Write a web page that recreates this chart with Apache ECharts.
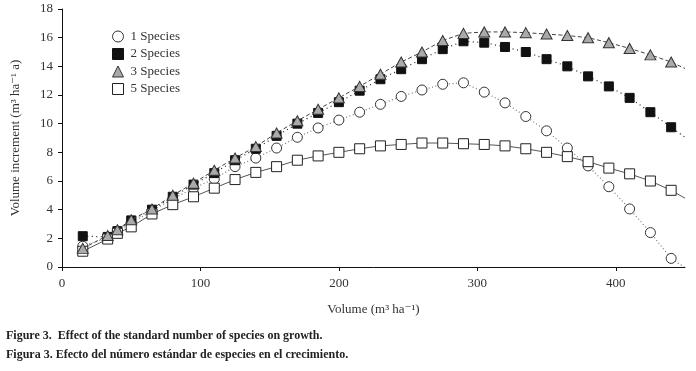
<!DOCTYPE html>
<html>
<head>
<meta charset="utf-8">
<script src="https://cdn.jsdelivr.net/npm/echarts@6/dist/echarts.min.js"></script>
<style>
  html, body { margin: 0; padding: 0; background: #fff; }
  #app { width: 696px; height: 371px; }
</style>
</head>
<body>
<div id="app"></div>
<script>
// volume (m3/ha) of each measured point
const volume = [15, 33, 40, 50, 65, 80, 95, 110, 125, 140, 155, 170, 185, 200, 215,
  230, 245, 260, 275, 290, 305, 320, 335, 350, 365, 380, 395, 410, 425, 440];

const species1 = [1.45, 2.05, 2.5, 3.1, 3.9, 4.75, 5.5, 6.15, 7.0, 7.6, 8.3, 9.05, 9.7, 10.25, 10.8,
  11.35, 11.9, 12.35, 12.75, 12.85, 12.2, 11.45, 10.5, 9.5, 8.3, 7.05, 5.6, 4.05, 2.4, 0.6];
const species2 = [2.15, 2.1, 2.5, 3.25, 4.0, 4.9, 5.75, 6.55, 7.45, 8.25, 9.15, 10.0, 10.75, 11.5, 12.3,
  13.1, 13.8, 14.5, 15.2, 15.75, 15.65, 15.35, 15.0, 14.5, 14.0, 13.3, 12.6, 11.8, 10.8, 9.75];
const species3 = [1.3, 2.2, 2.6, 3.3, 4.05, 5.0, 5.85, 6.75, 7.6, 8.4, 9.35, 10.2, 11.0, 11.8, 12.6,
  13.45, 14.3, 15.0, 15.8, 16.3, 16.4, 16.4, 16.35, 16.25, 16.15, 16.0, 15.65, 15.25, 14.8, 14.3];
const species5 = [1.1, 1.95, 2.35, 2.8, 3.7, 4.35, 4.9, 5.5, 6.1, 6.6, 7.0, 7.45, 7.75, 8.0, 8.25,
  8.45, 8.55, 8.65, 8.65, 8.6, 8.55, 8.45, 8.25, 8.0, 7.7, 7.35, 6.9, 6.5, 6.0, 5.35];

// where each fitted curve meets the right edge of the plot
const curveEndX = 450;
const curveEnd = { s1: -0.05, s2: 9.05, s3: 13.85, s5: 4.8 };

const serif = '"Liberation Serif", "DejaVu Serif", serif';

function pts(values, endY) {
  const d = volume.map((x, i) => [x, values[i]]);
  d.push({ value: [curveEndX, endY], symbol: 'none' });
  return d;
}

const series = [
  {
    name: '1 Species', data: pts(species1, curveEnd.s1), z: 2,
    symbol: 'circle', symbolSize: 10,
    itemStyle: { color: '#fff', borderColor: '#333', borderWidth: 1 },
    lineStyle: { color: '#777', width: 1.2, type: [1, 2.5] }
  },
  {
    name: '2 Species', data: pts(species2, curveEnd.s2), z: 3,
    symbol: 'rect', symbolSize: 9,
    itemStyle: { color: '#111', borderColor: '#111', borderWidth: 1 },
    lineStyle: { color: '#222', width: 1.2, type: [1, 3.5] }
  },
  {
    name: '3 Species', data: pts(species3, curveEnd.s3), z: 5,
    symbol: 'triangle', symbolSize: [11, 10],
    itemStyle: { color: '#aaa', borderColor: '#333', borderWidth: 1 },
    lineStyle: { color: '#444', width: 1, type: [4, 2.5] }
  },
  {
    name: '5 Species', data: pts(species5, curveEnd.s5), z: 4,
    symbol: 'rect', symbolSize: 10,
    itemStyle: { color: '#fff', borderColor: '#222', borderWidth: 1 },
    lineStyle: { color: '#555', width: 1, type: 'solid' }
  }
].map(s => Object.assign({ type: 'line', showAllSymbol: true, animation: false, clip: true }, s));

const chart = echarts.init(document.getElementById('app'));
chart.setOption({
  backgroundColor: '#fff',
  animation: false,
  textStyle: { fontFamily: serif },
  title: [
    {
      text: 'Figure 3.  Effect of the standard number of species on growth.',
      left: 6, top: 330, padding: 0,
      textStyle: { fontFamily: serif, fontSize: 12, fontWeight: 'bold', color: '#222' }
    },
    {
      text: 'Figura 3. Efecto del número estándar de especies en el crecimiento.',
      left: 6, top: 349, padding: 0,
      textStyle: { fontFamily: serif, fontSize: 12, fontWeight: 'bold', color: '#222' }
    }
  ],
  legend: {
    orient: 'vertical', left: 112, top: 30, padding: 0,
    itemWidth: 11, itemHeight: 11, itemGap: 4.5,
    itemStyle: { borderWidth: 1 },
    textStyle: { fontFamily: serif, fontSize: 13, color: '#333', padding: [0, 0, 0, 2] },
    data: [
      { name: '1 Species', icon: 'circle' },
      { name: '2 Species', icon: 'rect' },
      { name: '3 Species', icon: 'triangle' },
      { name: '5 Species', icon: 'rect' }
    ]
  },
  grid: { left: 62, right: 11, top: 9, bottom: 104, containLabel: false },
  xAxis: {
    type: 'value', min: 0, max: 450, interval: 100,
    name: 'Volume (m³ ha⁻¹)', nameLocation: 'middle', nameGap: 36,
    nameTextStyle: { fontFamily: serif, fontSize: 13, color: '#333' },
    axisLine: { lineStyle: { color: '#111', width: 1 } },
    axisTick: { show: true, inside: false, length: 4, lineStyle: { color: '#111' } },
    axisLabel: { fontFamily: serif, fontSize: 13, color: '#333', margin: 10,
      showMaxLabel: false },
    splitLine: { show: false }
  },
  yAxis: {
    type: 'value', min: 0, max: 18, interval: 2,
    name: 'Volume increment (m³ ha⁻¹ a)', nameLocation: 'middle', nameGap: 40,
    nameTextStyle: { fontFamily: serif, fontSize: 13, color: '#333' },
    axisLine: { show: true, lineStyle: { color: '#111', width: 1 } },
    axisTick: { show: true, inside: false, length: 4, lineStyle: { color: '#111' } },
    axisLabel: { fontFamily: serif, fontSize: 13, color: '#333', margin: 9 },
    splitLine: { show: false }
  },
  series
});
</script>
</body>
</html>
